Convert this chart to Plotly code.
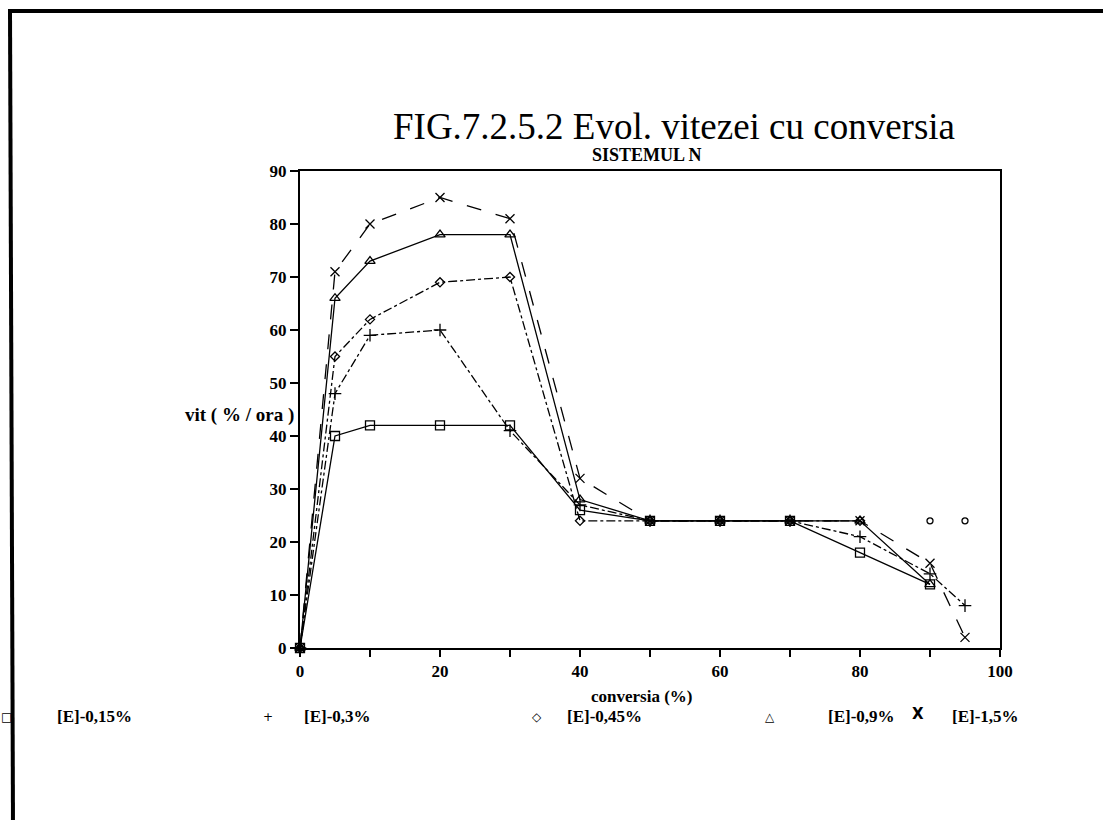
import plotly.graph_objects as go

# conversion (%) and rate (%/h) for each enzyme concentration
conv = [0, 5, 10, 20, 30, 40, 50, 60, 70, 80, 90, 95]

vit_015 = [0, 40, 42, 42, 42, 26, 24, 24, 24, 18, 12]
vit_03 = [0, 48, 59, 60, 41, 27, 24, 24, 24, 21, 14, 8]
vit_045 = [0, 55, 62, 69, 70, 24, 24, 24, 24, 24, 24, 24]
vit_09 = [0, 66, 73, 78, 78, 28, 24, 24, 24, 24, 12]
vit_15 = [0, 71, 80, 85, 81, 32, 24, 24, 24, 24, 16, 2]

series_names = ["[E]-0,15%", "[E]-0,3%", "[E]-0,45%", "[E]-0,9%", "[E]-1,5%"]
legend_symbols = ["□", "+", "◇", "△", "X"]

x_ticks = list(range(0, 101, 10))
x_ticktext = [str(v) if v % 20 == 0 else "" for v in x_ticks]
y_ticks = list(range(0, 91, 10))

W, H = 1103, 820
L, R, T, B = 300, 103, 171, 172
PW, PH = W - L - R, H - T - B


def px(xp):
    return (xp - L) / PW


def py(yp):
    return (H - B - yp) / PH


BLACK = "#000"
fig = go.Figure()


def add_series(xs, ys, name, symbol, dash, size, mode="lines+markers"):
    fig.add_trace(go.Scatter(
        x=xs, y=ys, name=name, mode=mode,
        line=dict(color=BLACK, width=1.3, dash=dash),
        marker=dict(symbol=symbol, size=size, color=BLACK,
                    line=dict(color=BLACK, width=1.3)),
        showlegend=False, cliponaxis=False,
    ))


add_series(conv[:len(vit_015)], vit_015, series_names[0], "square-open", "solid", 9)
add_series(conv[:len(vit_03)], vit_03, series_names[1], "cross-thin-open", "dashdot", 9)
# the 0,45% curve is joined up to 80 % conversion, the last two readings are isolated
add_series(conv[:10], vit_045[:10], series_names[2], "diamond-open", "dashdot", 7)
add_series(conv[10:], vit_045[10:], series_names[2], "circle-open", "solid", 6, mode="markers")
add_series(conv[:len(vit_09)], vit_09, series_names[3], "triangle-up-open", "solid", 9)
add_series(conv[:len(vit_15)], vit_15, series_names[4], "x-thin-open", "longdash", 9)

tick_font = dict(family="Liberation Serif", size=17, color=BLACK, weight="bold")
label_font = dict(family="Liberation Serif", size=17, color=BLACK, weight="bold")

fig.update_layout(
    width=W, height=H, autosize=False,
    margin=dict(l=L, r=R, t=T, b=B, pad=0),
    paper_bgcolor="white", plot_bgcolor="white",
    xaxis=dict(range=[0, 100], tickvals=x_ticks, ticktext=x_ticktext,
               ticks="outside", ticklen=7, tickwidth=1.5, tickcolor=BLACK,
               showline=True, linewidth=2, linecolor=BLACK, mirror=True,
               showgrid=False, zeroline=False, tickfont=tick_font),
    yaxis=dict(range=[0, 90], tickvals=y_ticks,
               ticks="outside", ticklen=8, tickwidth=1.5, tickcolor=BLACK,
               showline=True, linewidth=2, linecolor=BLACK, mirror=True,
               showgrid=False, zeroline=False, tickfont=tick_font),
)

annotations = [
    dict(text="FIG.7.2.5.2 Evol. vitezei cu conversia", x=px(674), y=py(126),
         font=dict(family="Liberation Serif", size=37, color=BLACK)),
    dict(text="SISTEMUL N", x=px(647), y=py(155),
         font=dict(family="Liberation Serif", size=18, color=BLACK, weight="bold")),
    dict(text="vit ( % / ora )", x=px(296), y=py(415), xanchor="right",
         font=dict(family="Liberation Serif", size=19, color=BLACK, weight="bold")),
    dict(text="conversia (%)", x=px(642), y=py(696), font=label_font),
]

legend_sym_x = [6, 268, 537, 770, 918]
legend_txt_x = [55, 302, 565, 826, 950]
for sym, sx, tx, name in zip(legend_symbols, legend_sym_x, legend_txt_x, series_names):
    is_x = sym == "X"
    annotations.append(dict(text=sym, x=px(sx), y=py(714 if is_x else 717),
                            font=dict(family="DejaVu Sans", size=15 if is_x else 12,
                                      color=BLACK, weight="bold" if is_x else "normal")))
    annotations.append(dict(text=name, x=px(tx), y=py(716), xanchor="left",
                            font=label_font))

for a in annotations:
    a.update(xref="paper", yref="paper", showarrow=False)
    a.setdefault("xanchor", "center")
    a.setdefault("yanchor", "middle")
fig.update_layout(annotations=annotations)

# outer frame of the figure sheet
fig.add_shape(type="line", xref="paper", yref="paper", x0=px(8), x1=px(W + 5),
              y0=py(11), y1=py(11), line=dict(color=BLACK, width=4))
fig.add_shape(type="line", xref="paper", yref="paper", x0=px(10), x1=px(13),
              y0=py(11), y1=py(H + 5), line=dict(color=BLACK, width=4))

fig.write_html("out.html")
